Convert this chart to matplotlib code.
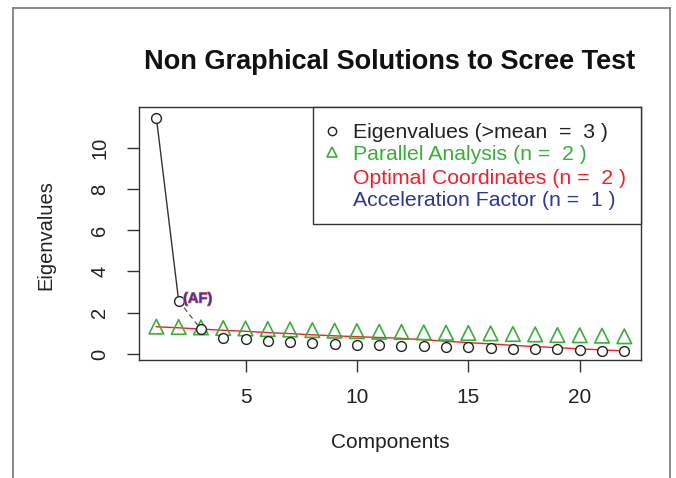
import matplotlib
matplotlib.use("Agg")
import matplotlib.pyplot as plt
import matplotlib.patheffects as pe
from matplotlib.lines import Line2D

components = list(range(1, 23))
eigenvalues = [11.45, 2.58, 1.20, 0.78, 0.72, 0.62, 0.57, 0.55, 0.50, 0.45, 0.43, 0.40,
               0.38, 0.35, 0.32, 0.28, 0.26, 0.24, 0.22, 0.20, 0.16, 0.14]
parallel = [1.33, 1.31, 1.29, 1.26, 1.24, 1.21, 1.19, 1.16, 1.13, 1.11, 1.08, 1.07,
            1.05, 1.03, 1.02, 1.00, 0.97, 0.95, 0.92, 0.91, 0.89, 0.86]
optimal = [1.32, 1.27, 1.21, 1.15, 1.10, 1.04, 0.99, 0.93, 0.88, 0.84, 0.80, 0.76,
           0.69, 0.62, 0.55, 0.49, 0.42, 0.36, 0.31, 0.25, 0.20, 0.15]
legend_labels = ["Eigenvalues (>mean  =  3 )", "Parallel Analysis (n =  2 )",
                 "Optimal Coordinates (n =  2 )", "Acceleration Factor (n =  1 )"]
xticks = [5, 10, 15, 20]
yticks = [0, 2, 4, 6, 8, 10]
af_label = "(AF)"

GREEN = "#3aae3a"
RED = "#f0202a"
BLUE = "#2b3990"

plt.rcParams["font.family"] = ["Liberation Sans", "DejaVu Sans"]
W, H = 676, 478
fig = plt.figure(figsize=(W / 100, H / 100), dpi=100)
L, R, T, B = 139, 641, 107, 360
ax = fig.add_axes([L / W, 1 - B / H, (R - L) / W, (B - T) / H])
ax.set_xlim(0.22, 22.75)
ax.set_ylim(-0.29, 11.97)

ax.plot(components[:2], eigenvalues[:2], color="#333333", lw=1.0, zorder=2)
ax.plot(components[1:3], eigenvalues[1:3], color="#555555", lw=0.9, ls=(0, (4, 3)), zorder=2)
ax.plot(components, optimal, color=RED, lw=1.0, zorder=3)
ax.scatter(components, parallel, marker="^", s=110, facecolors="none",
           edgecolors=GREEN, linewidths=1.2, zorder=4)
ax.scatter(components, eigenvalues, marker="o", s=50, facecolors="white",
           edgecolors="#222222", linewidths=1.0, zorder=5)

ax.text(components[1] + 0.2, eigenvalues[1] + 0.1, af_label, color="#3a3a9a", fontsize=10.5,
        fontweight="bold", va="center", ha="left", zorder=7,
        path_effects=[pe.withStroke(linewidth=0.9, foreground="#ee6b80")])

ax.set_xticks(xticks)
ax.set_yticks(yticks)
ax.set_xticklabels([str(v) for v in xticks], fontsize=15, color="#222222")
ax.set_yticklabels([str(v) for v in yticks], fontsize=14.5, color="#222222",
                   rotation=90, va="center")
ax.tick_params(axis="both", length=8.5, width=1.0, color="#333333")
ax.tick_params(axis="x", pad=12)
ax.tick_params(axis="y", pad=13)
for s in ax.spines.values():
    s.set_color("#333333")
    s.set_linewidth(1.0)

fig.text(390 / W, 1 - 442 / H, "Components", ha="center", va="center",
         fontsize=15, color="#222222")
fig.text(46 / W, 1 - 235 / H, "Eigenvalues", ha="center", va="center",
         fontsize=14.5, color="#222222", rotation=90)
fig.text(390 / W, 1 - 62 / H, "Non Graphical Solutions to Scree Test", ha="center",
         va="center", fontsize=19.5, fontweight="bold", color="#111111")

# legend box
lx0, lx1, ly0, ly1 = 313, 641, 107, 224
fig.patches.append(plt.Rectangle((lx0 / W, 1 - ly1 / H), (lx1 - lx0) / W, (ly1 - ly0) / H,
                                 transform=fig.transFigure, fill=True, facecolor="white",
                                 edgecolor="#333333", lw=1.0, zorder=10))
rows_y = [132, 155, 178, 201]
colors = ["#222222", GREEN, RED, BLUE]
for lab, c, yy in zip(legend_labels, colors, rows_y):
    fig.text(353 / W, 1 - yy / H, lab, color=c, fontsize=15.3, ha="left", va="center",
             zorder=11)
fig.lines.append(Line2D([332 / W], [1 - 130.5 / H], marker="o", markersize=6,
                        markerfacecolor="white", markeredgecolor="#222222",
                        markeredgewidth=1.0, transform=fig.transFigure, zorder=12))
fig.lines.append(Line2D([332 / W], [1 - 152.5 / H], marker="^", markersize=7.5,
                        markerfacecolor="none", markeredgecolor=GREEN,
                        markeredgewidth=1.2, transform=fig.transFigure, zorder=12))

# outer frame (left, top, right)
fr = "#777777"
for xs, ys in [([13, 13], [478, 8]), ([13, 670], [8, 8]), ([670, 670], [8, 478])]:
    fig.lines.append(Line2D([x / W for x in xs], [1 - y / H for y in ys], color=fr,
                            lw=1.2, transform=fig.transFigure))

fig.savefig("out.png", dpi=100)
